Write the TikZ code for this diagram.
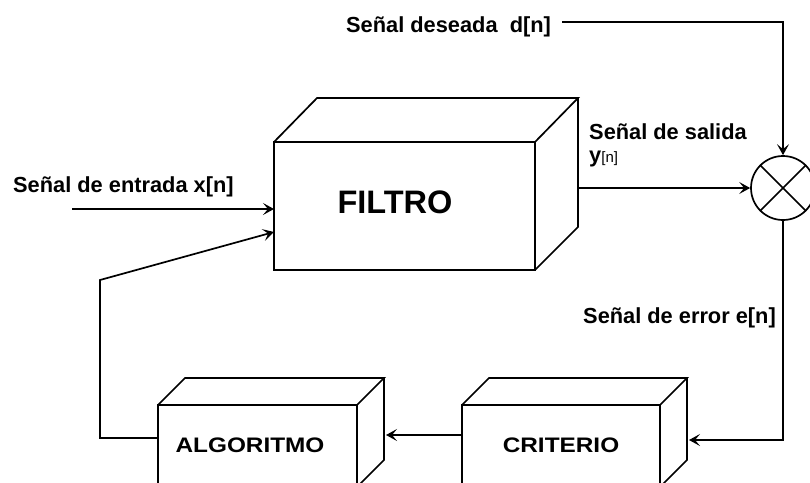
\documentclass[tikz,border=0pt]{standalone}
\usepackage{fontspec}
\usepackage{graphicx}
\setmainfont{Liberation Sans}
\usetikzlibrary{arrows.meta}
\tikzset{
  edge/.style={line width=1.7pt},
  conn/.style={line width=1.7pt, -{Stealth[length=11pt,width=12pt,inset=5pt]}},
  lbl/.style={anchor=base west, inner sep=0pt, font=\bfseries\fontsize{21.8}{25}\selectfont},
  bigtxt/.style={inner sep=0pt, font=\bfseries\fontsize{32.5}{36}\selectfont},
  boxtxt/.style={inner sep=0pt, font=\bfseries\fontsize{21}{24}\selectfont},
}
\begin{document}
\begin{tikzpicture}[x=1pt,y=-1pt]
\useasboundingbox (0,0) rectangle (810,482);
\clip (0,0) rectangle (810,482);
% FILTRO cuboid
\draw[edge] (274,142) rectangle (535,270);
\draw[edge] (274,142) -- (317,98) -- (578,98) -- (535,142);
\draw[edge] (578,98) -- (578,227) -- (535,270);
\node[bigtxt] (filtro) at (395,202) {FILTRO};
\coordinate (fin1) at (274,209);
\coordinate (fin2) at (274,232);
\coordinate (fout) at (578,188);
% CRITERIO cuboid
\draw[edge] (462,405) rectangle (660,500);
\draw[edge] (462,405) -- (489,378) -- (687,378) -- (660,405);
\draw[edge] (687,378) -- (687,460) -- (660,487);
\node[boxtxt] (crit) at (561,445) {\scalebox{1.16}[1]{CRITERIO}};
\coordinate (critR) at (689,440);
\coordinate (critL) at (462,435);
% ALGORITMO cuboid
\draw[edge] (158,405) rectangle (357,500);
\draw[edge] (158,405) -- (185,378) -- (384,378) -- (357,405);
\draw[edge] (384,378) -- (384,460) -- (357,487);
\node[boxtxt] (alg) at (250,445) {\scalebox{1.16}[1]{ALGORITMO}};
\coordinate (algR) at (386,435);
\coordinate (algL) at (158,438);
% summing junction
\node[draw, circle, line width=1.7pt, minimum size=64pt, inner sep=0pt] (sum) at (783,188) {};
\draw[edge] (sum.north west) -- (sum.south east);
\draw[edge] (sum.north east) -- (sum.south west);
% labels
\node[lbl] (ld) at (346,32) {Señal deseada\ \ d[n]};
\node[lbl] (ly) at (589,139) {Señal de salida};
\node[anchor=base west, inner sep=0pt] (lyn) at (589,162) {\fontsize{21.8}{25}\selectfont\bfseries y\fontsize{15}{17}\selectfont\mdseries[n]};
\node[lbl] (lx) at (13,192) {Señal de entrada x[n]};
\node[lbl] (le) at (583,323) {Señal de error e[n]};
% connectors
\coordinate (dstart) at (562,22);
\coordinate (xstart) at (72,209);
\draw[conn] (dstart) -- (783,22) -- (sum.north);
\draw[conn] (fout) -- (sum.west);
\draw[conn] (xstart) -- (fin1);
\draw[conn] (sum.south) -- (783,440) -- (critR);
\draw[conn] (critL) -- (algR);
\draw[conn] (algL) -- (100,438) -- (100,280) -- (fin2);
\end{tikzpicture}
\end{document}
